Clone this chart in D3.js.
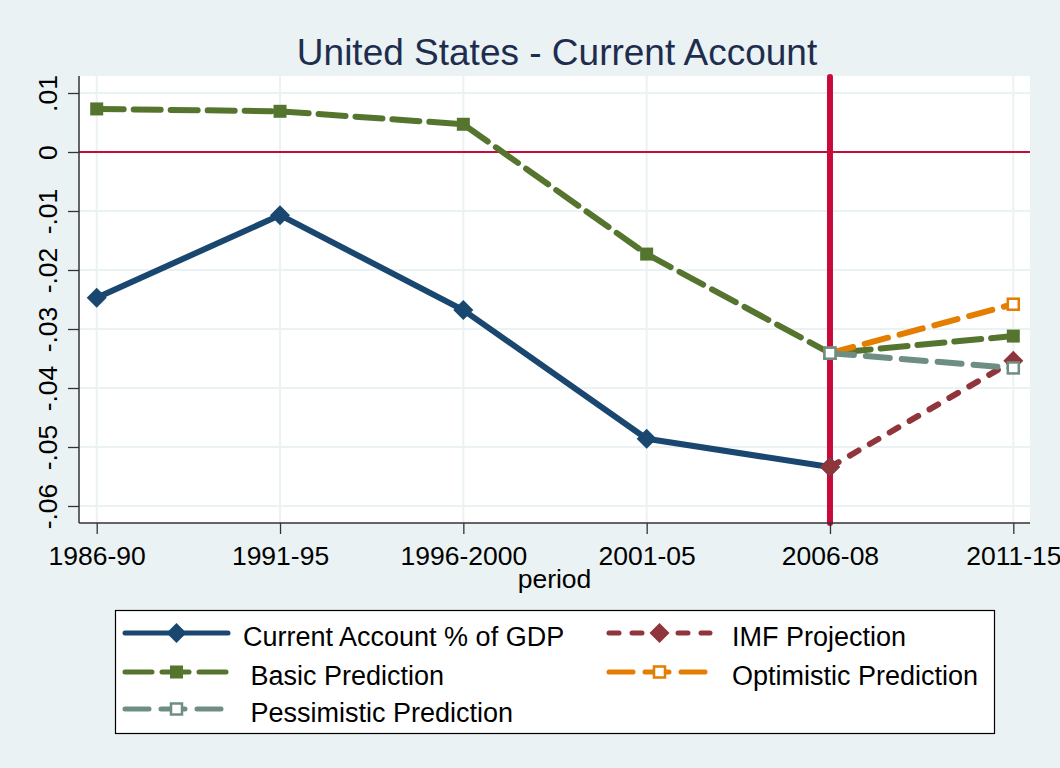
<!DOCTYPE html>
<html><head><meta charset="utf-8">
<script src="https://cdn.jsdelivr.net/npm/d3@7"></script>
<style>html,body{margin:0;padding:0;background:#EAF2F3;} text{font-family:"Liberation Sans",Arial,sans-serif;}</style>
</head><body>
<svg id="c" width="1060" height="768"></svg>
<script>
const categories = ["1986-90","1991-95","1996-2000","2001-05","2006-08","2011-15"];
const currentAccount = [-0.0247,-0.0107,-0.0268,-0.0486,-0.0534,null];
const imfProjection = [null,null,null,null,-0.0534,-0.0354];
const basicPrediction = [0.0073,0.0069,0.0047,-0.0173,-0.0341,-0.0312];
const optimisticPrediction = [null,null,null,null,-0.0341,-0.0258];
const pessimisticPrediction = [null,null,null,null,-0.0341,-0.0366];
const yTicks = [0.01,0,-0.01,-0.02,-0.03,-0.04,-0.05,-0.06];
const yTickLabels = [".01","0","-.01","-.02","-.03","-.04","-.05","-.06"];
const seriesNames = ["Current Account % of GDP","IMF Projection"," Basic Prediction","Optimistic Prediction"," Pessimistic Prediction"];
const refX = "2006-08";
const refY = 0;

const series = [
  {name:seriesNames[0], values:currentAccount, color:"#1A476F", dash:null, marker:"diamond"},
  {name:seriesNames[1], values:imfProjection, color:"#90353B", dash:"10,13", marker:"diamond"},
  {name:seriesNames[2], values:basicPrediction, color:"#55752F", dash:"27,10", marker:"square"},
  {name:seriesNames[3], values:optimisticPrediction, color:"#E37E00", dash:"24,12", marker:"hollow"},
  {name:seriesNames[4], values:pessimisticPrediction, color:"#6E8E84", dash:"24,12", marker:"hollow"}
];

const svg = d3.select("#c");
const W=1060,H=768;
svg.append("rect").attr("width",W).attr("height",H).attr("fill","#EAF2F3");

const pl=79, pr=1030, pt=76, pb=523;
const x = d3.scalePoint().domain(categories).range([96.7,1013.3]);
const y = d3.scaleLinear().domain([0.01,-0.06]).range([93,506]);

svg.append("rect").attr("x",pl).attr("y",pt).attr("width",pr-pl).attr("height",pb-pt).attr("fill","#fff");

// grid
const g = svg.append("g");
g.selectAll(".hg").data(yTicks).join("line")
  .attr("x1",pl).attr("x2",pr).attr("y1",d=>y(d)).attr("y2",d=>y(d))
  .attr("stroke","#EAF2F3").attr("stroke-width",2);
g.selectAll(".vg").data(categories).join("line")
  .attr("x1",d=>x(d)).attr("x2",d=>x(d)).attr("y1",pt).attr("y2",pb)
  .attr("stroke","#EAF2F3").attr("stroke-width",2);

// reference lines
svg.append("line").attr("x1",pl).attr("x2",pr).attr("y1",y(refY)).attr("y2",y(refY))
  .attr("stroke","#C80A3A").attr("stroke-width",2);
svg.append("line").attr("x1",x(refX)).attr("x2",x(refX)).attr("y1",pt+1).attr("y2",pb)
  .attr("stroke","#C80A3A").attr("stroke-width",6).attr("stroke-linecap","round");

// axes
const yAxis = d3.axisLeft(y).tickValues(yTicks).tickFormat((d,i)=>yTickLabels[i]).tickSize(11).tickSizeOuter(0);
const ya = svg.append("g").attr("transform",`translate(${pl},0)`).call(yAxis);
ya.select(".domain").attr("d",`M0,${pt}V${pb}`).attr("stroke","#333").attr("stroke-width",1.5);
ya.selectAll(".tick line").attr("stroke","#333").attr("stroke-width",1.3);
ya.selectAll(".tick text").attr("font-size",26.5).attr("fill","#000")
  .attr("x",0).attr("dy",0).attr("text-anchor","middle")
  .attr("transform","translate(-22,0) rotate(-90)");

const xAxis = d3.axisBottom(x).tickSize(11).tickSizeOuter(0);
const xa = svg.append("g").attr("transform",`translate(0,${pb})`).call(xAxis);
xa.select(".domain").attr("d",`M${pl},0H${pr}`).attr("stroke","#333").attr("stroke-width",1.5);
xa.selectAll(".tick line").attr("stroke","#333").attr("stroke-width",1.3);
xa.selectAll(".tick text").attr("font-size",26.5).attr("fill","#000").attr("y",42).attr("dy",0);

svg.append("text").attr("x",(pl+pr)/2).attr("y",588).attr("text-anchor","middle")
  .attr("font-size",26.5).text("period");

svg.append("text").attr("x",557).attr("y",65).attr("text-anchor","middle")
  .attr("font-size",37).attr("fill","#1E2D4F").text("United States - Current Account");

function drawMarker(sel, type, color, cx, cy){
  if(type==="diamond"){
    sel.append("path").attr("d",d3.symbol(d3.symbolSquare, 200)())
      .attr("transform",`translate(${cx},${cy}) rotate(45)`).attr("fill",color);
  } else if(type==="square"){
    sel.append("rect").attr("x",cx-6.5).attr("y",cy-6.5).attr("width",13).attr("height",13).attr("fill",color);
  } else {
    sel.append("rect").attr("x",cx-5.5).attr("y",cy-5.5).attr("width",11).attr("height",11)
      .attr("fill","#fff").attr("stroke",color).attr("stroke-width",2.5);
  }
}

const line = d3.line().defined(d=>d.v!==null).x(d=>x(d.c)).y(d=>y(d.v));
series.forEach(s=>{
  const data = categories.map((c,i)=>({c, v:s.values[i]}));
  const sg = svg.append("g");
  sg.append("path").datum(data).attr("d",line).attr("fill","none")
    .attr("stroke",s.color).attr("stroke-width",6).attr("stroke-linecap","round").attr("stroke-linejoin","round")
    .attr("stroke-dasharray",s.dash);
  data.filter(d=>d.v!==null).forEach(d=>drawMarker(sg,s.marker,s.color,x(d.c),y(d.v)));
});

// legend
const lg = svg.append("g");
lg.append("rect").attr("x",115.5).attr("y",610.5).attr("width",879).attr("height",123)
  .attr("fill","#fff").attr("stroke","#000").attr("stroke-width",1.2);
const cols=[{k1:125,k2:228,t:243},{k1:609,k2:710,t:732}];
const rows=[633,672,709];
series.forEach((s,i)=>{
  const c=cols[i%2], r=rows[Math.floor(i/2)];
  lg.append("line").attr("x1",c.k1).attr("x2",c.k2).attr("y1",r).attr("y2",r)
    .attr("stroke",s.color).attr("stroke-width",5).attr("stroke-linecap","round")
    .attr("stroke-dasharray",s.dash);
  drawMarker(lg,s.marker,s.color,(c.k1+c.k2)/2,r);
  lg.append("text").attr("x",c.t).attr("y",r+13).attr("font-size",27).attr("xml:space","preserve")
    .style("white-space","pre").text(s.name);
});
</script>
</body></html>
